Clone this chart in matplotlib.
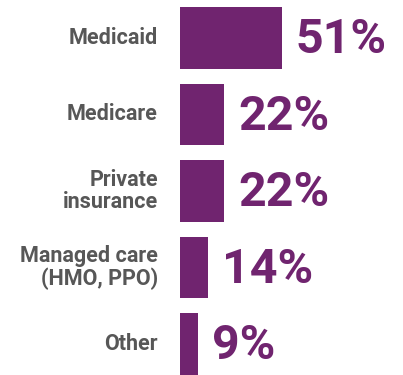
import matplotlib
matplotlib.use("Agg")
import matplotlib.pyplot as plt

categories = ["Medicaid", "Medicare", "Private\ninsurance", "Managed care\n(HMO, PPO)", "Other"]
values = [51, 22, 22, 14, 9]
value_labels = ["51%", "22%", "22%", "14%", "9%"]

purple = "#70246f"
gray = "#575757"

W, H = 403, 375
fig = plt.figure(figsize=(W / 100, H / 100), dpi=100)
left_px, width_px = 180, 220
ax = fig.add_axes([left_px / W, 0, width_px / W, 1])
ax.set_xlim(0, width_px / 2.0)
ax.set_ylim((H - 38) / 76.5, -38 / 76.5)

pos = list(range(len(categories)))
ax.barh(pos, values, height=0.81, color=purple)

for y, v, lab, cat in zip(pos, values, value_labels, categories):
    ax.text(v + 7, y + 0.03, lab, ha="left", va="center", color=purple,
            fontsize=34.8, fontweight="bold", family="Roboto")
    ax.text(-11, y, cat, ha="right", va="center", color=gray,
            fontsize=15.5, fontweight="bold", family="Roboto",
            linespacing=1.0, clip_on=False)

ax.axis("off")
fig.savefig("out.png", dpi=100)
